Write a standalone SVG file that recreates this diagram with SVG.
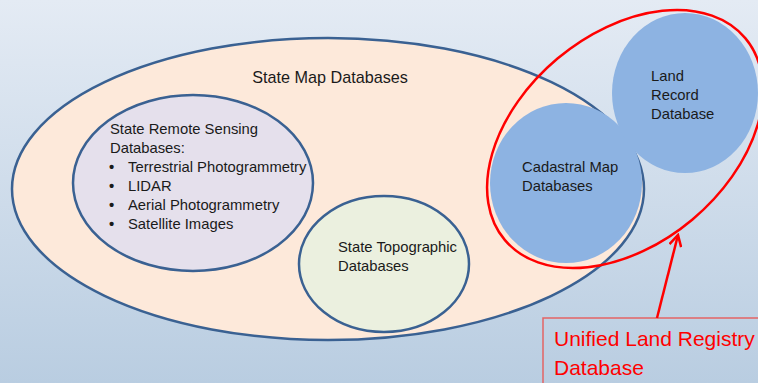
<svg xmlns="http://www.w3.org/2000/svg" width="758" height="383" viewBox="0 0 758 383">
  <defs>
    <linearGradient id="bg" x1="0" y1="0" x2="0" y2="1">
      <stop offset="0" stop-color="#e4ebf4"/>
      <stop offset="1" stop-color="#b9cde1"/>
    </linearGradient>
    <marker id="openArrow" viewBox="0 0 14 14" refX="12" refY="7" markerWidth="14" markerHeight="14" markerUnits="userSpaceOnUse" orient="auto">
      <path d="M1,1 L12,7 L1,13" fill="none" stroke="#ff0000" stroke-width="2.5"/>
    </marker>
  </defs>
  <style>
    .set { stroke: #3a6192; stroke-width: 2.5; }
    .lbl { font-family: "Liberation Sans", Arial, sans-serif; font-size: 14.8px; fill: #1a1a1a; }
    .red { font-family: "Liberation Sans", Arial, sans-serif; font-size: 21px; fill: #ff0000; }
  </style>
  <rect x="0" y="0" width="758" height="383" fill="url(#bg)"/>

  <g id="state-map">
    <ellipse class="set" cx="328" cy="189" rx="316" ry="151" fill="#fde9da"/>
    <text class="lbl" x="330" y="83" text-anchor="middle" style="font-size:16.2px">State Map Databases</text>
  </g>

  <g id="remote-sensing">
    <ellipse class="set" cx="193" cy="183" rx="120" ry="88" fill="#e5e0ec"/>
    <text class="lbl" x="110" y="134">State Remote Sensing</text>
    <text class="lbl" x="110" y="153">Databases:</text>
    <text class="lbl" x="109" y="172" font-weight="bold">•</text>
    <text class="lbl" x="128" y="172">Terrestrial Photogrammetry</text>
    <text class="lbl" x="109" y="191" font-weight="bold">•</text>
    <text class="lbl" x="128" y="191">LIDAR</text>
    <text class="lbl" x="109" y="210" font-weight="bold">•</text>
    <text class="lbl" x="128" y="210">Aerial Photogrammetry</text>
    <text class="lbl" x="109" y="229" font-weight="bold">•</text>
    <text class="lbl" x="128" y="229">Satellite Images</text>
  </g>

  <g id="topographic">
    <ellipse class="set" cx="384" cy="264" rx="85" ry="68" fill="#ebf0df"/>
    <text class="lbl" x="338" y="252">State Topographic</text>
    <text class="lbl" x="338" y="271">Databases</text>
  </g>

  <g id="cadastral">
    <ellipse cx="566" cy="183" rx="76" ry="80" fill="#8db3e2"/>
    <text class="lbl" x="522" y="172">Cadastral Map</text>
    <text class="lbl" x="522" y="191">Databases</text>
  </g>

  <g id="land-record">
    <ellipse cx="685" cy="93" rx="73" ry="80" fill="#8db3e2"/>
    <text class="lbl" x="651" y="81">Land</text>
    <text class="lbl" x="651" y="100">Record</text>
    <text class="lbl" x="651" y="119">Database</text>
  </g>

  <g id="unified">
    <ellipse cx="625" cy="139" rx="157" ry="105" transform="rotate(-40 625 139)" fill="none" stroke="#ff0000" stroke-width="2.5"/>
    <rect x="543" y="318" width="230" height="80" fill="none" stroke="#e46464" stroke-width="1.5"/>
    <text class="red" x="554" y="346">Unified Land Registry</text>
    <text class="red" x="554" y="375">Database</text>
  </g>

  <g id="connectors">
    <line x1="657" y1="318" x2="678" y2="235" stroke="#ff0000" stroke-width="2.5" marker-end="url(#openArrow)"/>
  </g>
</svg>
